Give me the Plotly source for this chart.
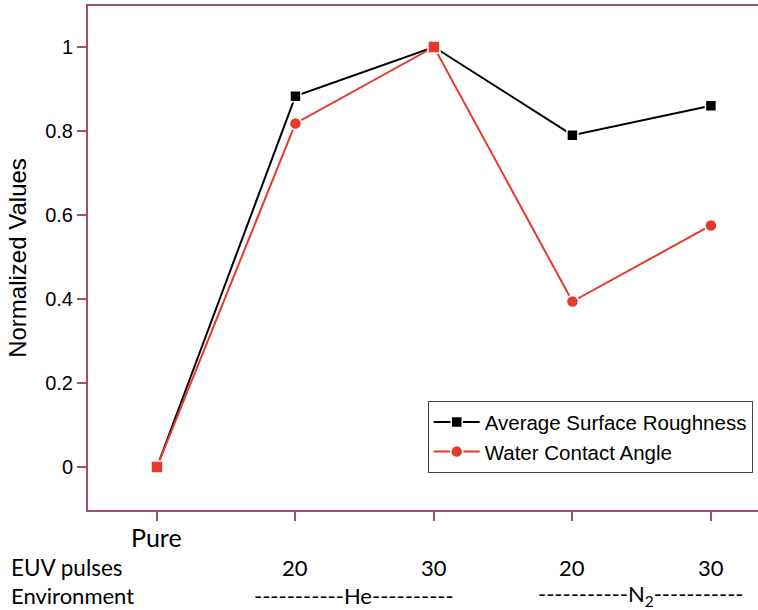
import plotly.graph_objects as go

# Sample conditions along the x axis
conditions = ["Pure", "He 20", "He 30", "N2 20", "N2 30"]
euv_pulses = ["", "20", "30", "20", "30"]
environments = ["-----------He----------", "-----------N<sub>2</sub>-----------"]

# Normalized measurements
roughness = [0.0, 0.883, 1.0, 0.79, 0.86]
contact_angle = [0.0, 0.818, 1.0, 0.394, 0.575]

x = list(range(len(conditions)))
frame_color = "#a24f6c"
red = "#e5392b"
sans = "Liberation Sans, Arial, sans-serif"
label_font = "Lato, Noto Sans, sans-serif"

fig = go.Figure()
fig.add_trace(go.Scatter(
    x=x, y=roughness, mode="lines+markers", name="Average Surface Roughness",
    line=dict(color="black", width=2),
    marker=dict(symbol="square", size=11, color="black", line=dict(color="white", width=1.5)),
))
fig.add_trace(go.Scatter(
    x=x, y=contact_angle, mode="lines+markers", name="Water Contact Angle",
    line=dict(color=red, width=2),
    marker=dict(symbol="circle", size=12, color=red, line=dict(color="white", width=1.5)),
))
# Where both series coincide the shared point is drawn as a red square
same = [i for i in x if contact_angle[i] == roughness[i]]
fig.add_trace(go.Scatter(
    x=same, y=[contact_angle[i] for i in same], mode="markers", showlegend=False,
    marker=dict(symbol="square", size=12, color=red, line=dict(color="white", width=1.5)),
))

annotations = []
# "Pure" label under the first tick
annotations.append(dict(x=0, y=0, xref="x", yref="paper", yshift=-27, text="Pure",
                        xanchor="center", yanchor="middle", showarrow=False,
                        font=dict(family=label_font, size=25, color="black")))
# Row headings
annotations.append(dict(x=0, y=0, xref="paper", yref="paper", xshift=-79, yshift=-57,
                        xanchor="left", yanchor="middle", text="EUV pulses", showarrow=False,
                        font=dict(family=label_font, size=22.5, color="black")))
annotations.append(dict(x=0, y=0, xref="paper", yref="paper", xshift=-79, yshift=-85,
                        xanchor="left", yanchor="middle", text="Environment", showarrow=False,
                        font=dict(family=label_font, size=22, color="black")))
# Pulse counts
for xi, p in zip(x, euv_pulses):
    if p:
        annotations.append(dict(x=xi, y=0, xref="x", yref="paper", yshift=-57, text=p,
                                xanchor="center", yanchor="middle", showarrow=False,
                                font=dict(family=label_font, size=22, color="black")))
# Environment groups, centred between their two conditions
for (a, b), env in zip([(1, 2), (3, 4)], environments):
    annotations.append(dict(x=(a + b) / 2, y=0, xref="x", yref="paper", yshift=-85,
                            xshift=-11 if a == 1 else -1,
                            xanchor="center", yanchor="middle",
                            text=env, showarrow=False,
                            font=dict(family=label_font, size=22, color="black")))

fig.update_layout(
    width=758, height=610,
    margin=dict(l=88, r=0, t=6, b=100),
    plot_bgcolor="white", paper_bgcolor="white",
    showlegend=True,
    legend=dict(x=0.507, y=0.216, xanchor="left", yanchor="top",
                bgcolor="white", bordercolor="#444444", borderwidth=1,
                font=dict(family=sans, size=20.5, color="black"),
                itemwidth=46, tracegroupgap=0),
    annotations=annotations,
    xaxis=dict(range=[-0.498, 4.34], tickvals=x, ticktext=[""] * len(x),
               showgrid=False, zeroline=False, showline=True, mirror=True,
               linecolor=frame_color, linewidth=2,
               ticks="outside", ticklen=9, tickwidth=2, tickcolor=frame_color),
    yaxis=dict(range=[-0.1024, 1.0976], tickvals=[0, 0.2, 0.4, 0.6, 0.8, 1],
               ticktext=["0", "0.2", "0.4", "0.6", "0.8", "1"],
               showgrid=False, zeroline=False, showline=True,
               linecolor=frame_color, linewidth=2,
               ticks="outside", ticklen=9, tickwidth=2, tickcolor=frame_color,
               tickfont=dict(family=sans, size=20, color="black"),
               title=dict(text="Normalized Values", standoff=12,
                          font=dict(family=sans, size=24, color="black"))),
)

fig.write_html("out.html")
